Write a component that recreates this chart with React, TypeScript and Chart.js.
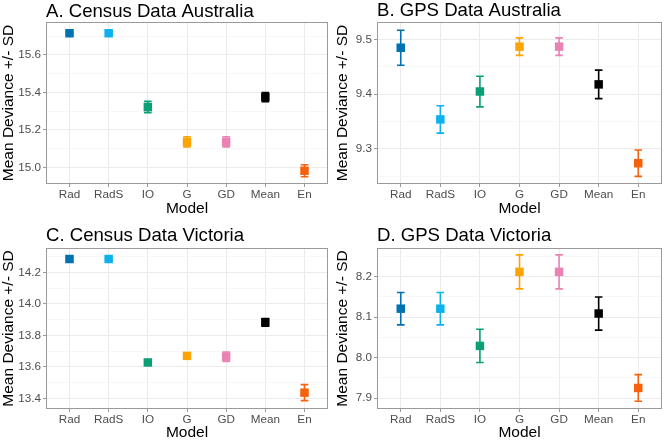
import React, { useEffect, useRef } from "react";
import { Chart, registerables } from "chart.js";
Chart.register(...registerables);

const categories = ["Rad", "RadS", "IO", "G", "GD", "Mean", "En"];
const modelColors = ["#0072B2", "#0DB2EC", "#0B9F76", "#FBA406", "#E883B4", "#000000", "#F6620C"];

// A. Census Data Australia
const censusAusMean = [15.716, 15.716, 15.322, 15.136, 15.136, 15.375, 14.982];
const censusAusSD = [0.006, 0.006, 0.03, 0.027, 0.027, 0.024, 0.032];
const censusAusMajor = [15.0, 15.2, 15.4, 15.6];
const censusAusMinor = [15.1, 15.3, 15.5, 15.7];

// B. GPS Data Australia
const gpsAusMean = [9.485, 9.354, 9.405, 9.487, 9.487, 9.418, 9.274];
const gpsAusSD = [0.032, 0.025, 0.028, 0.016, 0.016, 0.026, 0.024];
const gpsAusMajor = [9.3, 9.4, 9.5];
const gpsAusMinor = [9.25, 9.35, 9.45];

// C. Census Data Victoria
const censusVicMean = [14.286, 14.286, 13.628, 13.67, 13.665, 13.883, 13.436];
const censusVicSD = [0.008, 0.008, 0.006, 0.008, 0.03, 0.025, 0.051];
const censusVicMajor = [13.4, 13.6, 13.8, 14.0, 14.2];
const censusVicMinor = [13.5, 13.7, 13.9, 14.1, 14.3];

// D. GPS Data Victoria
const gpsVicMean = [8.121, 8.121, 8.029, 8.212, 8.212, 8.109, 7.925];
const gpsVicSD = [0.04, 0.04, 0.041, 0.042, 0.042, 0.041, 0.033];
const gpsVicMajor = [7.9, 8.0, 8.1, 8.2];
const gpsVicMinor = [7.95, 8.05, 8.15, 8.25];

const FONT = "'Liberation Sans', Arial, Helvetica, sans-serif";
const W = 334;
const H = 220;

type Panel = {
  title: string;
  mean: number[];
  sd: number[];
  major: number[];
  minor: number[];
  yMin: number;
  yMax: number;
  decimals: number;
  pos: { x: number; y: number };
  frame: { left: number; top: number; right: number; bottom: number };
  titleBaseline: number;
};

const panels: Panel[] = [
  {
    title: "A. Census Data Australia",
    mean: censusAusMean, sd: censusAusSD, major: censusAusMajor, minor: censusAusMinor,
    yMin: 14.911, yMax: 15.776, decimals: 1,
    pos: { x: 0, y: 0 },
    frame: { left: 46, top: 22, right: 332, bottom: 184 },
    titleBaseline: 16.5,
  },
  {
    title: "B. GPS Data Australia",
    mean: gpsAusMean, sd: gpsAusSD, major: gpsAusMajor, minor: gpsAusMinor,
    yMin: 9.236, yMax: 9.532, decimals: 1,
    pos: { x: 334, y: 0 },
    frame: { left: 43, top: 22, right: 332, bottom: 184 },
    titleBaseline: 16,
  },
  {
    title: "C. Census Data Victoria",
    mean: censusVicMean, sd: censusVicSD, major: censusVicMajor, minor: censusVicMinor,
    yMin: 13.332, yMax: 14.356, decimals: 1,
    pos: { x: 0, y: 220 },
    frame: { left: 46, top: 28, right: 332, bottom: 189 },
    titleBaseline: 20.5,
  },
  {
    title: "D. GPS Data Victoria",
    mean: gpsVicMean, sd: gpsVicSD, major: gpsVicMajor, minor: gpsVicMinor,
    yMin: 7.873, yMax: 8.271, decimals: 1,
    pos: { x: 334, y: 220 },
    frame: { left: 43, top: 28, right: 332, bottom: 189 },
    titleBaseline: 20.5,
  },
];

const isMajorValue = (major: number[], v: number) => major.some((m) => Math.abs(m - v) < 1e-6);

function PanelChart({ panel }: { panel: Panel }) {
  const ref = useRef<HTMLCanvasElement | null>(null);
  useEffect(() => {
    const canvas = ref.current;
    if (!canvas) return;
    const { frame } = panel;
    const allTicks = [...panel.major, ...panel.minor].sort((a, b) => a - b);

    const errorBars = {
      id: "errorBars",
      beforeDatasetsDraw(chart: any) {
        const ctx = chart.ctx;
        const xs = chart.scales.x;
        const ys = chart.scales.y;
        ctx.save();
        ctx.lineWidth = 1.6;
        panel.mean.forEach((m, i) => {
          const x = xs.getPixelForValue(i);
          const yLo = ys.getPixelForValue(m - panel.sd[i]);
          const yHi = ys.getPixelForValue(m + panel.sd[i]);
          ctx.strokeStyle = modelColors[i];
          ctx.beginPath();
          ctx.moveTo(x, yLo);
          ctx.lineTo(x, yHi);
          ctx.moveTo(x - 3.8, yLo);
          ctx.lineTo(x + 3.8, yLo);
          ctx.moveTo(x - 3.8, yHi);
          ctx.lineTo(x + 3.8, yHi);
          ctx.stroke();
        });
        ctx.restore();
      },
    };

    const frameAndTitle = {
      id: "frameAndTitle",
      afterDraw(chart: any) {
        const ctx = chart.ctx;
        const a = chart.chartArea;
        ctx.save();
        ctx.strokeStyle = "#9A9A9A";
        ctx.lineWidth = 1;
        ctx.strokeRect(Math.round(a.left) + 0.5, Math.round(a.top) + 0.5, Math.round(a.right - a.left) - 1, Math.round(a.bottom - a.top) - 1);
        ctx.fillStyle = "#000000";
        ctx.font = `18.6px ${FONT}`;
        ctx.textAlign = "left";
        ctx.textBaseline = "alphabetic";
        ctx.fillText(panel.title, a.left, panel.titleBaseline);
        ctx.restore();
      },
    };

    const xTitleCenter = frame.bottom + 25;

    const chart = new Chart(canvas, {
      type: "scatter",
      data: {
        datasets: [
          {
            data: panel.mean.map((v, i) => ({ x: i, y: v })),
            pointStyle: "rect",
            pointRadius: 6,
            pointHoverRadius: 6,
            pointBackgroundColor: modelColors,
            pointBorderWidth: 0,
            borderWidth: 0,
            showLine: false,
          } as any,
        ],
      },
      options: {
        animation: false,
        responsive: false,
        events: [],
        layout: { padding: { left: 0, top: frame.top, right: W - frame.right, bottom: 0 } },
        plugins: { legend: { display: false }, tooltip: { enabled: false }, title: { display: false } },
        scales: {
          x: {
            type: "linear",
            min: -0.6,
            max: 6.6,
            bounds: "data",
            afterBuildTicks: (s: any) => {
              s.ticks = categories.map((_, i) => ({ value: i }));
            },
            afterFit: (s: any) => {
              s.height = H - frame.bottom;
            },
            ticks: {
              callback: (_v: any, i: number) => categories[i],
              font: { family: FONT, size: 11.7, lineHeight: 1.2 },
              color: "#4D4D4D",
              padding: 0.5,
              autoSkip: false,
              maxRotation: 0,
            },
            grid: { color: "#EBEBEB", lineWidth: 1, tickLength: 3, tickColor: "#9A9A9A" },
            border: { display: false },
            title: {
              display: true,
              text: "Model",
              color: "#000000",
              font: { family: FONT, size: 15.5, lineHeight: 1 },
              padding: { top: 0, bottom: Math.max(0, H - xTitleCenter - 7.75) },
            },
          } as any,
          y: {
            type: "linear",
            min: panel.yMin,
            max: panel.yMax,
            bounds: "data",
            afterBuildTicks: (s: any) => {
              s.ticks = allTicks.map((v) => ({ value: v }));
            },
            afterFit: (s: any) => {
              s.width = frame.left;
            },
            ticks: {
              callback: (v: any) => (isMajorValue(panel.major, Number(v)) ? Number(v).toFixed(panel.decimals) : ""),
              font: { family: FONT, size: 11.7 },
              color: "#4D4D4D",
              padding: 2,
              autoSkip: false,
            },
            grid: {
              color: (c: any) => (c.tick && isMajorValue(panel.major, c.tick.value) ? "#EBEBEB" : "#F3F3F3"),
              lineWidth: (c: any) => (c.tick && isMajorValue(panel.major, c.tick.value) ? 1 : 0.7),
              tickLength: 3,
              tickColor: (c: any) => (c.tick && isMajorValue(panel.major, c.tick.value) ? "#9A9A9A" : "rgba(0,0,0,0)"),
            },
            border: { display: false },
            title: {
              display: true,
              text: "Mean Deviance +/- SD",
              color: "#000000",
              font: { family: FONT, size: 15.5, lineHeight: 1 },
              padding: { top: 0.5, bottom: 0 },
            },
          } as any,
        },
      } as any,
      plugins: [errorBars, frameAndTitle],
    });
    return () => chart.destroy();
  }, [panel]);

  return (
    <canvas
      ref={ref}
      width={W}
      height={H}
      style={{ position: "absolute", left: panel.pos.x, top: panel.pos.y, width: W, height: H }}
    />
  );
}

export default function App() {
  return (
    <div style={{ position: "absolute", left: 0, top: 0, width: 668, height: 440, background: "#ffffff" }}>
      {panels.map((p) => (
        <PanelChart key={p.title} panel={p} />
      ))}
    </div>
  );
}
